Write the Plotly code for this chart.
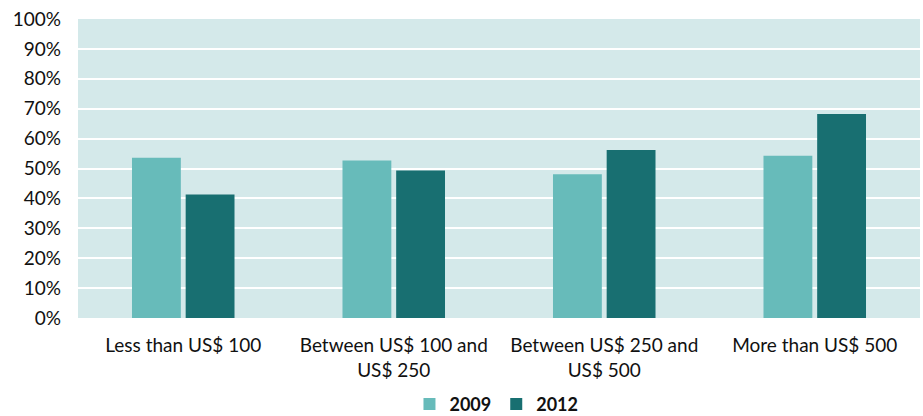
import plotly.graph_objects as go

categories = ["Less than US$ 100", "Between US$ 100 and<br>US$ 250",
              "Between US$ 250 and<br>US$ 500", "More than US$ 500"]
values_2009 = [53.6, 52.7, 48.1, 54.3]
values_2012 = [41.3, 49.3, 56.2, 68.2]
y_ticks = [0, 10, 20, 30, 40, 50, 60, 70, 80, 90, 100]
y_tick_labels = [f"{v}%" for v in y_ticks]

fig = go.Figure()
fig.add_trace(go.Bar(x=categories, y=values_2009, name="<b>2009</b>",
                     marker=dict(color="#67BBBA", line=dict(width=0))))
fig.add_trace(go.Bar(x=categories, y=values_2012, name="<b>2012</b>",
                     marker=dict(color="#186F71", line=dict(width=0))))

fig.update_layout(
    width=923, height=416,
    margin=dict(l=78, r=3, t=19, b=98),
    paper_bgcolor="white",
    plot_bgcolor="#D4E9EA",
    barmode="group",
    bargap=0.49,
    bargroupgap=0.09,
    font=dict(family="Lato, Open Sans, sans-serif", size=19, color="#111111"),
    legend=dict(orientation="h", x=0.497, xanchor="center",
                yref="container", y=0.028, yanchor="middle",
                font=dict(size=18), itemsizing="constant", traceorder="normal",
                itemwidth=30),
    showlegend=True,
)
fig.update_yaxes(range=[0, 100], tickvals=y_ticks, ticktext=y_tick_labels,
                 showgrid=True, gridcolor="white", gridwidth=2,
                 zeroline=False, showline=False, ticklabelstandoff=16,
                 automargin=False)
fig.update_xaxes(showgrid=False, showline=False, ticklabelstandoff=14,
                 automargin=False)

fig.write_html(
    "out.html",
    config={"displayModeBar": False},
    post_script="document.documentElement.style.margin='0';document.body.style.margin='0';"
                "document.body.style.padding='0';document.documentElement.style.overflow='hidden';",
)
